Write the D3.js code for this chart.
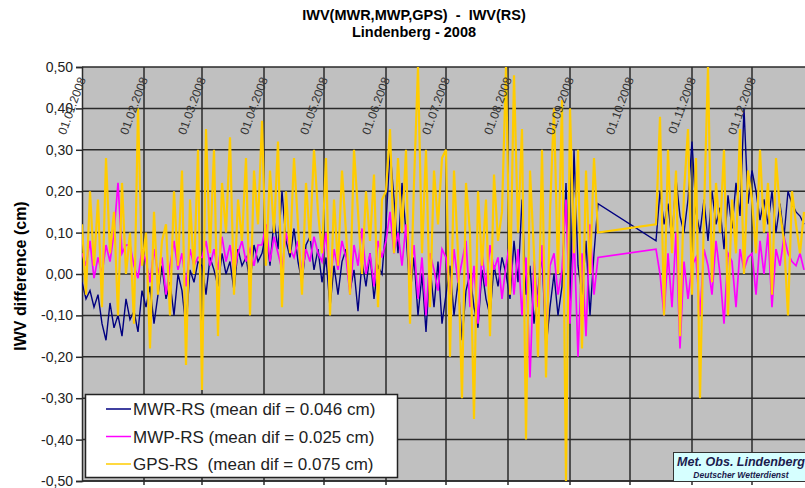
<!DOCTYPE html>
<html>
<head>
<meta charset="utf-8">
<script src="https://cdn.jsdelivr.net/npm/d3@7"></script>
<style>
body{margin:0;background:#fff;}
svg{display:block;font-family:"Liberation Sans",Arial,sans-serif;}
svg text{white-space:pre;}
</style>
</head>
<body>
<div id="chart"></div>
<script>
// day of year (Jan 1 = 0) of each sample
var days = [
  0,2,4,6,8,10,12,14,16,18,20,22,24,26,28,30,            // Jan
  32,34,36,38,40,42,44,46,48,50,52,54,56,58,             // Feb
  60,62,64,66,68,70,72,74,76,78,80,82,84,86,88,          // Mar
  90,92,94,96,98,100,102,104,106,108,110,112,114,116,118, // Apr
  120,122,124,126,128,130,132,134,136,138,140,142,144,146,148,150, // May
  152,154,156,158,160,162,164,166,168,170,172,174,176,178,180, // Jun
  182,184,186,188,190,192,194,196,198,200,202,204,206,208,210, // Jul
  212,214,216,218,220,222,224,226,228,230,232,234,236,238,240, // Aug
  242,244,246,248,250,252,254,256,258,                   // Sep
  287,289,291,293,295,297,299,301,303,305,               // Oct
  307,309,311,313,315,317,319,321,323,325,327,329,331,333, // Nov
  335,337,339,341,343,345,347,349,351,353,355,357,359,361  // Dec
];

var mwr = [
  -0.02,-0.06,-0.04,-0.08,-0.05,-0.12,-0.16,-0.07,-0.13,-0.10,-0.15,-0.06,-0.11,-0.09,-0.14,-0.04,
  -0.08,-0.03,-0.12,-0.05,0.02,-0.06,-0.02,-0.10,0.00,-0.04,-0.13,0.01,-0.02,0.03,
  0.02,-0.05,0.04,0.01,-0.03,0.05,0.00,0.03,-0.04,0.06,0.02,0.04,-0.02,0.07,0.03,
  0.05,0.10,0.02,0.13,0.06,0.20,0.08,0.04,0.11,0.03,-0.02,0.07,0.09,0.01,0.06,
  -0.02,0.04,-0.08,0.02,-0.05,0.03,0.06,-0.04,0.01,-0.09,0.03,-0.03,0.05,-0.06,0.02,0.00,
  0.12,0.30,0.18,0.05,0.22,0.10,-0.05,0.04,-0.10,0.00,-0.14,0.02,-0.08,0.03,-0.12,
  -0.05,0.02,-0.10,-0.02,-0.16,-0.04,0.00,-0.08,-0.13,0.01,-0.06,-0.10,0.02,-0.03,0.04,
  0.00,-0.06,0.08,-0.02,0.18,-0.05,0.02,-0.12,-0.04,0.05,-0.18,-0.08,0.00,-0.10,-0.03,
  0.22,-0.08,0.30,0.02,-0.05,0.08,-0.10,0.05,0.17,
  0.08,0.20,0.12,0.17,0.08,0.23,0.14,0.10,0.18,0.32,
  0.15,0.10,0.18,0.08,0.20,0.12,0.16,0.06,0.19,0.11,0.22,0.14,0.40,0.17,
  0.25,0.20,0.13,0.18,0.12,0.20,0.10,0.17,0.09,0.20,0.17,0.15,0.14,0.12
];

var mwp = [
  0.05,0.02,0.08,-0.01,0.04,0.00,0.07,0.03,0.10,0.22,0.05,0.07,0.07,0.02,-0.01,0.06,
  0.03,-0.02,0.06,0.00,0.04,-0.05,0.02,0.08,0.01,0.05,-0.03,0.06,0.02,0.04,
  0.04,0.08,0.02,0.06,0.01,0.09,0.03,0.07,0.00,0.05,0.08,0.03,0.06,0.02,0.07,
  0.07,0.12,0.03,0.09,0.05,0.01,0.10,0.06,0.04,0.08,0.00,0.06,0.03,0.09,0.05,
  0.03,0.10,-0.02,0.06,0.01,0.08,0.04,-0.05,0.07,0.02,0.11,0.00,0.05,-0.03,0.08,0.04,
  0.08,0.15,0.05,0.10,0.02,0.12,0.00,0.07,-0.06,0.04,-0.10,0.05,0.01,-0.04,0.06,
  0.04,-0.05,0.06,-0.02,0.03,0.08,-0.08,0.02,-0.12,0.05,-0.03,0.07,0.01,0.04,-0.06,
  0.02,0.08,-0.05,0.06,-0.10,0.04,-0.25,0.03,-0.08,0.07,-0.15,0.02,0.05,-0.05,0.01,
  0.18,-0.12,0.10,-0.20,0.05,-0.15,0.12,-0.05,0.04,
  0.06,0.00,-0.10,0.05,-0.08,0.10,-0.18,0.03,-0.06,0.02,
  0.04,-0.10,0.06,0.02,-0.05,0.08,0.00,-0.12,0.05,0.03,-0.08,0.06,0.01,0.04,
  0.05,-0.05,0.08,0.00,0.10,-0.08,0.06,0.02,0.09,0.05,0.03,0.02,0.05,0.01
];

var gps = [
  0.12,-0.05,0.20,0.02,0.18,-0.08,0.28,0.05,0.15,-0.10,0.22,0.00,0.10,-0.12,0.40,0.02,
  0.10,-0.18,0.15,-0.05,0.08,0.12,-0.10,0.20,0.02,0.25,-0.22,0.18,0.00,0.30,
  -0.28,0.35,0.05,0.30,-0.15,0.22,0.10,0.33,-0.05,0.18,0.08,0.28,-0.10,0.25,0.12,
  0.37,0.02,0.25,0.10,0.32,-0.08,0.20,0.05,0.28,0.12,-0.05,0.22,0.08,0.30,0.15,
  0.05,0.28,-0.10,0.18,0.02,0.25,0.10,-0.05,0.30,0.15,0.00,0.20,0.08,0.24,-0.08,0.18,
  0.20,0.35,0.05,0.28,0.10,0.30,-0.12,0.22,0.50,0.05,0.30,-0.08,0.25,0.12,0.28,
  0.30,-0.20,0.25,0.05,-0.30,0.22,0.10,-0.35,0.20,0.02,0.18,-0.15,0.24,0.08,0.15,
  0.50,-0.05,0.48,0.10,0.35,-0.40,0.25,0.05,-0.20,0.30,-0.25,0.15,0.40,0.00,0.42,
  -0.50,0.40,0.05,0.30,-0.18,0.25,0.00,0.28,0.10,
  0.12,0.38,-0.10,0.30,0.05,0.25,-0.15,0.20,0.35,-0.05,
  0.28,-0.30,0.15,0.50,-0.02,0.22,0.10,0.30,-0.10,0.18,0.05,0.35,0.00,0.25,
  0.18,0.05,0.30,0.10,0.22,-0.05,0.28,0.15,0.08,-0.10,0.20,0.12,0.05,0.15
];

var monthDays = [0,31,60,91,121,152,182,213,244,274,305,335];
var monthLabels = ["01.01.2008","01.02.2008","01.03.2008","01.04.2008","01.05.2008","01.06.2008",
                   "01.07.2008","01.08.2008","01.09.2008","01.10.2008","01.11.2008","01.12.2008"];
var yTicks = [0.5,0.4,0.3,0.2,0.1,0,-0.1,-0.2,-0.3,-0.4,-0.5];

var seriesNames = ["MWR-RS (mean dif = 0.046 cm)","MWP-RS (mean dif = 0.025 cm)","GPS-RS  (mean dif = 0.075 cm)"];
var seriesColors = ["#000080","#ff00ff","#ffcc00"];

function IwvChart(options) {

    var width = options.width || 805,
        height = options.height || 488;

    var svg = d3.select(options.ele || "body").append("svg")
        .attr("width", width)
        .attr("height", height);

    var left = 82, top = 67, bottom = 481;

    var x = d3.scaleLinear().domain([0, 366]).range([left, left + 732]);
    var y = d3.scaleLinear().domain([-0.5, 0.5]).range([bottom, top]);

    // title
    svg.append("text").attr("x", 414).attr("y", 20).attr("text-anchor", "middle")
        .style("font-size", "14.5px").style("font-weight", "bold").text("IWV(MWR,MWP,GPS)  -  IWV(RS)");
    svg.append("text").attr("x", 414).attr("y", 37).attr("text-anchor", "middle")
        .style("font-size", "14.5px").style("font-weight", "bold").text("Lindenberg - 2008");

    // plot area
    svg.append("rect")
        .attr("x", left).attr("y", top)
        .attr("width", width - left + 10).attr("height", bottom - top)
        .attr("fill", "#c0c0c0");

    svg.append("clipPath").attr("id", "plotclip")
        .append("rect").attr("x", left).attr("y", top - 1)
        .attr("width", width - left).attr("height", bottom - top + 2);

    // horizontal grid
    svg.append("g").selectAll("line").data(yTicks).enter().append("line")
        .attr("x1", left).attr("x2", width)
        .attr("y1", function(d){return y(d);}).attr("y2", function(d){return y(d);})
        .attr("stroke", "#2a2a2a").attr("stroke-width", 1.5);

    // vertical grid at month starts
    svg.append("g").selectAll("line").data(monthDays.slice(1)).enter().append("line")
        .attr("x1", function(d){return x(d);}).attr("x2", function(d){return x(d);})
        .attr("y1", top).attr("y2", bottom + 4)
        .attr("stroke", "#2a2a2a").attr("stroke-width", 1.5);

    // y axis
    var yAxis = svg.append("g")
        .attr("transform", "translate(" + left + ",0)")
        .call(d3.axisLeft(y).tickValues(yTicks).tickSize(6).tickPadding(3)
            .tickFormat(function(d){return d3.format(".2f")(d).replace(".", ",").replace("\u2212", "-");}));
    yAxis.select(".domain").attr("stroke", "#2a2a2a").attr("stroke-width", 1.5);
    yAxis.selectAll(".tick line").attr("stroke", "#2a2a2a").attr("stroke-width", 1.5);
    yAxis.selectAll(".tick text")
        .style("font-family", "'Liberation Sans',Arial,sans-serif")
        .style("font-size", "14px").attr("fill", "#222");

    // bottom axis line
    svg.append("line").attr("x1", left).attr("x2", width)
        .attr("y1", bottom).attr("y2", bottom)
        .attr("stroke", "#2a2a2a").attr("stroke-width", 1.5);

    svg.append("text")
        .attr("transform", "translate(26," + (y(0) + 2) + ") rotate(-90)")
        .attr("text-anchor", "middle")
        .style("font-size", "16px").style("font-weight", "bold")
        .text("IWV difference (cm)");

    // series
    var line = d3.line()
        .x(function(d){return x(d[0]);})
        .y(function(d){return y(d[1]);});

    var widths = [1.4, 1.7, 2.2];
    var allSeries = [mwr, mwp, gps];
    var lines = svg.append("g").attr("clip-path", "url(#plotclip)");
    allSeries.forEach(function(values, i) {
        lines.append("path")
            .datum(days.map(function(d, j){return [d, values[j]];}))
            .attr("d", line)
            .attr("fill", "none")
            .attr("stroke", seriesColors[i])
            .attr("stroke-width", widths[i])
            .attr("stroke-linejoin", "miter");
    });

    // month labels
    svg.append("g").selectAll("text").data(monthDays).enter().append("text")
        .attr("transform", function(d){return "translate(" + (x(d) + 4) + ",79) rotate(-70)";})
        .attr("text-anchor", "end")
        .style("font-size", "12px").attr("fill", "#333")
        .text(function(d, i){return monthLabels[i];});

    // legend
    var legend = svg.append("g");
    legend.append("rect")
        .attr("x", 85.5).attr("y", 394.5).attr("width", 312).attr("height", 83)
        .attr("fill", "#fff").attr("stroke", "#222").attr("stroke-width", 1.5);
    seriesNames.forEach(function(name, i) {
        var ly = 409 + i * 27.5;
        legend.append("line").attr("x1", 106).attr("x2", 131)
            .attr("y1", ly).attr("y2", ly)
            .attr("stroke", seriesColors[i]).attr("stroke-width", 1.5);
        legend.append("text").attr("x", 133).attr("y", ly + 6)
            .style("font-size", "17px").attr("fill", "#222").text(name);
    });

    // logo box
    var logo = svg.append("g");
    logo.append("rect")
        .attr("x", 673.5).attr("y", 452.5).attr("width", 140).attr("height", 29)
        .attr("fill", "#d6ffff").attr("stroke", "#333").attr("stroke-width", 1);
    logo.append("text").attr("x", 741).attr("y", 466).attr("text-anchor", "middle")
        .style("font-size", "12.5px").style("font-weight", "bold").style("font-style", "italic")
        .attr("fill", "#1b1b4d").text("Met. Obs. Lindenberg");
    logo.append("text").attr("x", 741).attr("y", 477.5).attr("text-anchor", "middle")
        .style("font-size", "8.5px").style("font-weight", "bold").style("font-style", "italic")
        .attr("fill", "#1b1b4d").text("Deutscher Wetterdienst");

    return svg;
}

IwvChart({ele: "#chart", width: 805, height: 488});
</script>
</body>
</html>
